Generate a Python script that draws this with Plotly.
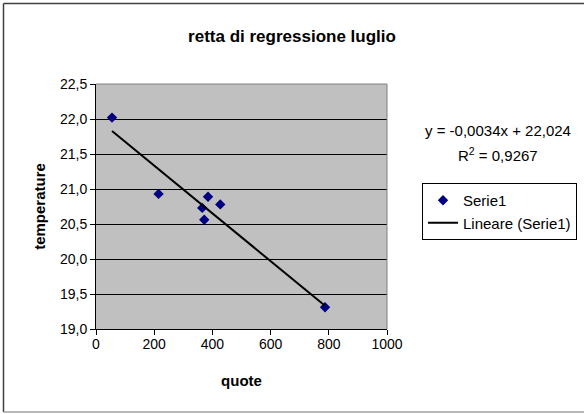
import numpy as np
import plotly.graph_objects as go

# Data
quote = [55, 215, 385, 427, 365, 372, 787]
temperature = [22.02, 20.93, 20.89, 20.78, 20.73, 20.56, 19.31]
series_name = "Serie1"
trend_name = "Lineare (Serie1)"
equation_text = "y = -0,0034x + 22,024"
r2_text = "R<sup>2</sup> = 0,9267"
x_ticks = [0, 200, 400, 600, 800, 1000]
y_ticks = [19.0, 19.5, 20.0, 20.5, 21.0, 21.5, 22.0, 22.5]

W, H = 584, 414
PL, PR, PT, PB = 96, 387, 84, 329  # plot area in pixels


def px2x(px):
    return (px - PL) / (PR - PL)


def py2y(py):
    return (PB - py) / (PB - PT)


slope, intercept = np.polyfit(quote, temperature, 1)
xl = np.array([min(quote), max(quote)])
yl = slope * xl + intercept

FONT = "Liberation Sans, Arial, sans-serif"

fig = go.Figure()
fig.add_trace(go.Scatter(
    x=quote, y=temperature, mode="markers", name=series_name,
    marker=dict(symbol="diamond", size=8, color="#000080",
                line=dict(width=0)),
))
fig.add_trace(go.Scatter(
    x=xl, y=yl, mode="lines", name=trend_name,
    line=dict(color="black", width=2),
))

shapes = [
    # outer chart border
    dict(type="line", xref="paper", yref="paper",
         x0=px2x(3.5), x1=px2x(600), y0=py2y(3.5), y1=py2y(3.5),
         line=dict(color="#404040", width=1.5)),
    dict(type="line", xref="paper", yref="paper",
         x0=px2x(3.5), x1=px2x(3.5), y0=py2y(3.5), y1=py2y(412),
         line=dict(color="#404040", width=1.5)),
    dict(type="line", xref="paper", yref="paper",
         x0=px2x(3.5), x1=px2x(600), y0=py2y(412), y1=py2y(412),
         line=dict(color="#A0A0A0", width=1.5)),
    # plot area border (top/right)
    dict(type="line", xref="paper", yref="paper",
         x0=0, x1=1, y0=1, y1=1, line=dict(color="#808080", width=1)),
    dict(type="line", xref="paper", yref="paper",
         x0=1, x1=1, y0=0, y1=1, line=dict(color="#808080", width=1)),
]

fig.update_layout(
    width=W, height=H,
    margin=dict(l=PL, r=W - PR, t=PT, b=H - PB, pad=0),
    paper_bgcolor="white",
    plot_bgcolor="#C0C0C0",
    separators=",.",
    font=dict(family=FONT, color="black", size=14),
    title=dict(text="<b>retta di regressione luglio</b>",
               x=0.5, xref="container", xanchor="center",
               y=1 - 36 / H, yref="container", yanchor="middle",
               font=dict(size=17, family=FONT, color="black")),
    xaxis=dict(
        range=[0, 1000], tickvals=x_ticks, tickformat="d",
        showgrid=False, zeroline=False,
        showline=True, linecolor="black", linewidth=1,
        ticks="outside", ticklen=5, tickcolor="black",
        tickfont=dict(size=14), ticklabelstandoff=-3,
        title=dict(text="<b>quote</b>", font=dict(size=15), standoff=24),
    ),
    yaxis=dict(
        range=[19.0, 22.5], tickvals=y_ticks, tickformat=".1f",
        showgrid=True, gridcolor="black", gridwidth=1, zeroline=False,
        showline=True, linecolor="black", linewidth=1,
        ticks="outside", ticklen=5, tickcolor="black",
        tickfont=dict(size=14),
        title=dict(text="<b>temperature</b>", font=dict(size=15), standoff=10),
    ),
    showlegend=True,
    legend=dict(
        x=422 / W, y=1 - 183 / H, xanchor="left", yanchor="top",
        xref="container", yref="container",
        bgcolor="white", bordercolor="black", borderwidth=1,
        font=dict(size=15, family=FONT),
        itemwidth=30, tracegroupgap=0,
    ),
    shapes=shapes,
    annotations=[
        dict(text=equation_text, xref="paper", yref="paper",
             x=px2x(498), y=py2y(130), xanchor="center", yanchor="middle",
             showarrow=False, font=dict(size=15, family=FONT)),
        dict(text=r2_text, xref="paper", yref="paper",
             x=px2x(498), y=py2y(154), xanchor="center", yanchor="middle",
             showarrow=False, font=dict(size=15, family=FONT)),
    ],
)

fig.write_html(
    "out.html",
    config={"displayModeBar": False},
    post_script="document.body.style.margin='0';document.body.style.overflow='hidden';",
)
